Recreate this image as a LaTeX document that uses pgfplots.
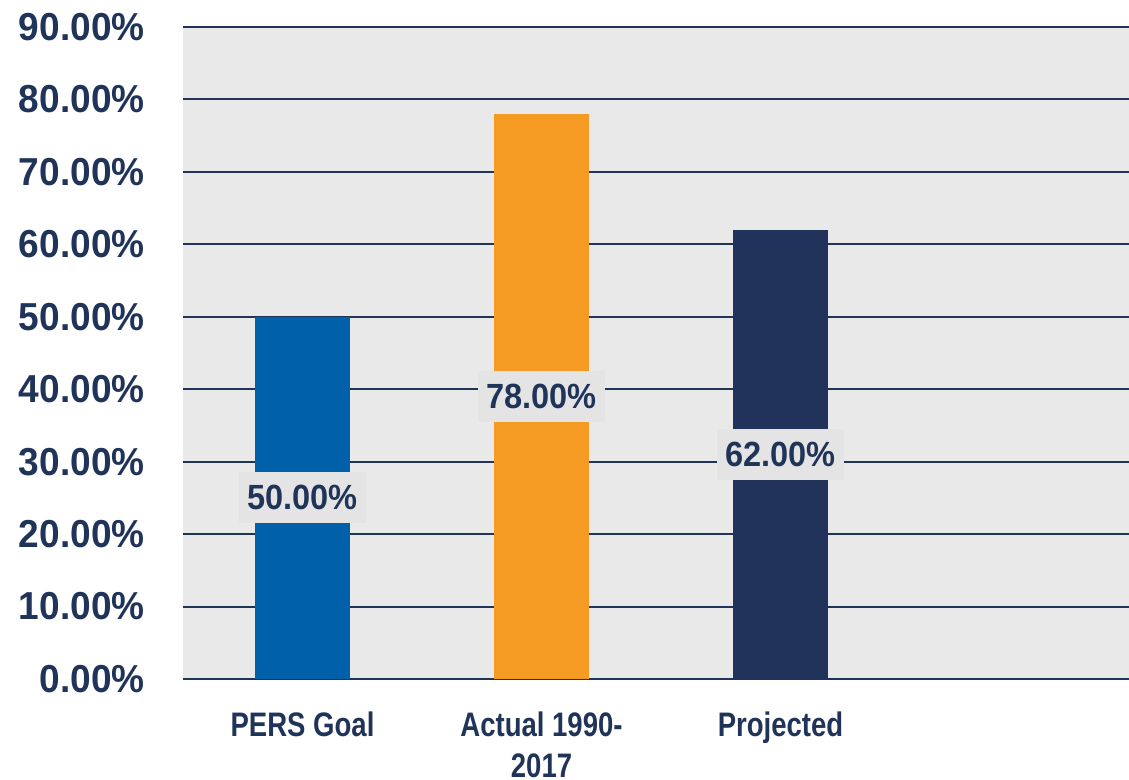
\documentclass[border=0pt]{standalone}
\usepackage{pgfplots}
\pgfplotsset{compat=1.18}
\usepackage{fontspec}
\setmainfont{Liberation Sans}
\definecolor{navy}{HTML}{203459}
\definecolor{pblue}{HTML}{0060A9}
\definecolor{porange}{HTML}{F59A23}
\definecolor{pdark}{HTML}{21335A}
\definecolor{bg}{HTML}{E9E9E9}
\definecolor{lblbg}{HTML}{E4E4E4}
\newcommand{\cx}[1]{\scalebox{0.81}[1]{#1}}
\newcommand{\cl}[1]{\scalebox{0.93}[1]{#1}}
\newcommand{\ct}[1]{\scalebox{0.95}[1]{#1}}
\begin{document}
\begin{tikzpicture}
\useasboundingbox (-91.5pt,-50.5pt) rectangle (473pt,339.5pt);
\begin{axis}[
  at={(0,0)}, anchor=south west,
  scale only axis, width=473pt, height=326pt,
  xmin=-0.5, xmax=3.458, ymin=0, ymax=90,
  axis background/.style={fill=bg},
  axis line style={draw=none},
  tick style={draw=none},
  /pgf/number format/assume math mode=true,
  ytick={0,10,...,90},
  ymajorgrids, grid style={navy, line width=1pt},
  xtick={0,1,2},
  xticklabels={\cx{PERS Goal}, {\cx{Actual 1990-}\\\cx{2017}}, \cx{Projected}},
  xticklabel style={anchor=north, inner sep=0pt, align=center, text=navy,
    font=\fontsize{17}{20.5}\selectfont\bfseries, yshift=-16pt},
  yticklabel={\ct{\pgfmathprintnumber[fixed,fixed zerofill,precision=2,assume math mode=true]{\tick}\%}},
  yticklabel style={anchor=east, inner sep=0pt, xshift=-19pt, text=navy,
    font=\fontsize{19.5}{22}\selectfont\bfseries},
  clip=false,
]
\addplot[ybar, bar width=0.4, bar shift=0pt, fill=pblue, draw=none] coordinates {(0,50)};
\addplot[ybar, bar width=0.4, bar shift=0pt, fill=porange, draw=none] coordinates {(1,78)};
\addplot[ybar, bar width=0.4, bar shift=0pt, fill=pdark, draw=none] coordinates {(2,62)};
\addplot[only marks, mark=none, nodes near coords={\cl{\pgfplotspointmeta}}, point meta=explicit symbolic,
  every node near coord/.style={anchor=center, fill=lblbg, text=navy,
    inner xsep=4.25pt, minimum height=25.5pt,
    font=\fontsize{17.5}{20}\selectfont\bfseries}]
  coordinates {(0,25)[50.00\%] (1,39)[78.00\%] (2,31)[62.00\%]};
\end{axis}
\end{tikzpicture}
\end{document}
